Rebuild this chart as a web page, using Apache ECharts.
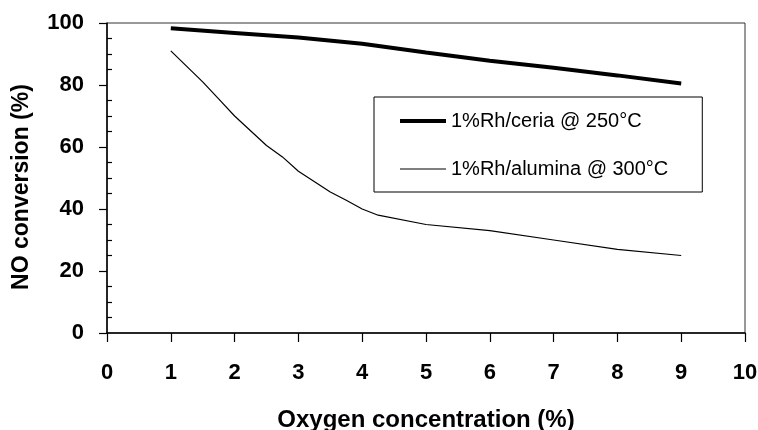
<!DOCTYPE html>
<html>
<head>
<meta charset="utf-8">
<title>NO conversion vs oxygen concentration</title>
<script src="https://cdn.jsdelivr.net/npm/echarts@6/dist/echarts.min.js"></script>
<style>
  html, body { margin: 0; padding: 0; background: #fff; }
  #chart { width: 758px; height: 430px; }
</style>
</head>
<body>
<div id="chart"></div>
<script>
// data
var seriesNames = ['1%Rh/ceria @ 250°C', '1%Rh/alumina @ 300°C']
var ceriaX = [1, 2, 3, 4, 5, 6, 7, 8, 9]
var ceriaY = [98.3, 96.8, 95.3, 93.3, 90.5, 87.8, 85.6, 83.1, 80.5]
var aluminaX = [1, 1.5, 1.75, 2, 2.5, 2.75, 3, 3.5, 3.75, 4, 4.25, 5, 6, 7, 8, 9]
var aluminaY = [91, 81, 75.5, 70, 60.5, 56.8, 52.2, 45.5, 42.8, 40, 38, 35, 33, 30, 27, 25]
var xTicks = [0, 1, 2, 3, 4, 5, 6, 7, 8, 9, 10]
var yTicks = [0, 20, 40, 60, 80, 100]

var font = "'Liberation Sans', Arial, sans-serif"
var lineWidths = [4, 1.2]

function pairs(xs, ys) {
  return xs.map(function (x, i) { return [x, ys[i]] })
}

var chart = echarts.init(document.getElementById('chart'))
chart.setOption({
  backgroundColor: '#fff',
  animation: false,
  textStyle: { fontFamily: font, color: '#000' },
  grid: {
    left: 107,
    right: 13,
    top: 23,
    bottom: 97,
    outerBoundsMode: 'none',
    show: true,
    borderColor: '#333',
    borderWidth: 1
  },
  legend: {
    orient: 'vertical',
    left: 374,
    top: 97,
    padding: [14, 34, 13, 24],
    itemWidth: 46,
    itemHeight: 20,
    itemGap: 28,
    borderColor: '#000',
    borderWidth: 1,
    backgroundColor: '#fff',
    // hide the marker dot, keep only the line sample
    itemStyle: { color: 'rgba(0,0,0,0)', borderWidth: 0 },
    textStyle: { fontFamily: font, fontSize: 20, color: '#000' },
    data: seriesNames.map(function (n, i) {
      return { name: n, lineStyle: { color: '#000', width: lineWidths[i] } }
    })
  },
  xAxis: {
    type: 'value',
    min: xTicks[0],
    max: xTicks[xTicks.length - 1],
    interval: 1,
    name: 'Oxygen concentration (%)',
    nameLocation: 'middle',
    nameGap: 75,
    nameTextStyle: { fontFamily: font, fontSize: 24, fontWeight: 'bold', color: '#000' },
    axisLine: { lineStyle: { color: '#000', width: 1.5 } },
    axisTick: { length: 9, lineStyle: { color: '#000', width: 1.2 } },
    axisLabel: { margin: 29, fontSize: 22, fontWeight: 'bold', color: '#000' },
    splitLine: { show: false }
  },
  yAxis: {
    type: 'value',
    min: yTicks[0],
    max: yTicks[yTicks.length - 1],
    interval: 20,
    name: 'NO conversion (%)',
    nameLocation: 'middle',
    nameRotate: 90,
    nameGap: 74,
    nameTextStyle: {
      fontFamily: font, fontSize: 23, fontWeight: 'bold', color: '#000',
      padding: [0, 18, 0, 0]
    },
    axisLine: { show: true, lineStyle: { color: '#000', width: 1.5 } },
    axisTick: { show: true, length: 8, lineStyle: { color: '#000', width: 1.2 } },
    minorTick: { show: true, splitNumber: 4, length: -5, lineStyle: { color: '#000', width: 1.2 } },
    axisLabel: { margin: 23, fontSize: 22, fontWeight: 'bold', color: '#000' },
    splitLine: { show: false }
  },
  series: [
    {
      name: seriesNames[0],
      type: 'line',
      symbol: 'none',
      data: pairs(ceriaX, ceriaY),
      lineStyle: { color: '#000', width: lineWidths[0] },
      itemStyle: { color: '#000' }
    },
    {
      name: seriesNames[1],
      type: 'line',
      symbol: 'none',
      data: pairs(aluminaX, aluminaY),
      lineStyle: { color: '#000', width: lineWidths[1] },
      itemStyle: { color: '#000' }
    }
  ]
})
</script>
</body>
</html>
